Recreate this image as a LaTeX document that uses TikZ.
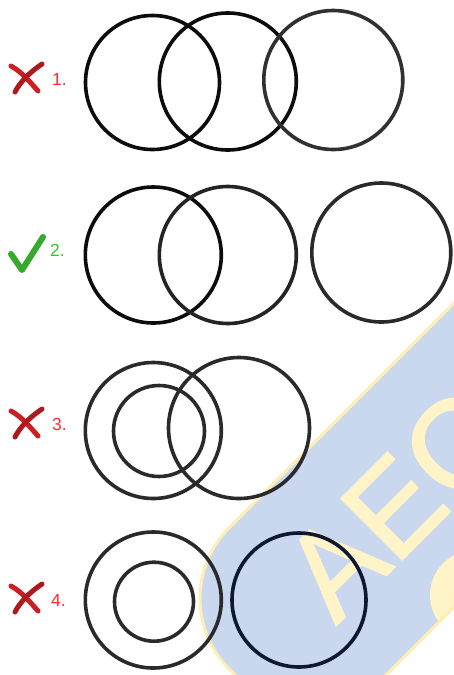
\documentclass[tikz,border=0pt]{standalone}
\usepackage{fontspec}
\setmainfont{Liberation Sans}
\newfontfamily\wmfont[FakeBold=1.5]{Liberation Sans}
\definecolor{bandblue}{RGB}{201,216,238}
\definecolor{wmyellow}{RGB}{255,244,200}
\definecolor{wmedge}{RGB}{252,238,180}
\definecolor{ringA}{RGB}{12,12,12}
\definecolor{ringB}{RGB}{42,42,42}
\definecolor{ringN}{RGB}{14,24,50}
\definecolor{xred}{RGB}{205,30,35}
\definecolor{numred}{RGB}{255,45,45}
\definecolor{numgreen}{RGB}{50,200,50}
\definecolor{okgreen}{RGB}{55,170,45}
\begin{document}
\begin{tikzpicture}[x=1pt,y=1pt,
  ring/.style={circle, draw=ringB, line width=3.6pt, inner sep=0pt, minimum size=#1},
  numlabel/.style={font=\fontsize{17.5}{17.5}\selectfont, anchor=west, inner sep=0pt},
  xmark/.style={draw=xred, line width=5pt, line cap=round},
  okmark/.style={draw=okgreen, line width=6pt, line cap=round, line join=round}]
\useasboundingbox (0,0) rectangle (454,-675);
\fill[white] (0,0) rectangle (454,-675);
% watermark band
\begin{scope}
  \clip (0,0) rectangle (454,-675);
  \begin{scope}[rotate=45]
    \begin{scope}
      \clip[rounded corners=100pt] (-311,-535.3) -- (600,-535.3) -- (600,-750.2) -- (-311,-750.2) -- cycle;
      \fill[bandblue] (-400,-400) rectangle (700,-900);
      \fill[wmyellow] (-84.9,-756.6) circle (45);
      \node[transform shape, anchor=base west, inner sep=0pt, text=wmyellow,
            font=\wmfont\fontsize{125}{125}\selectfont] (wm) at (-205,-680) {AEC};
    \end{scope}
    \draw[wmedge, line width=3pt, rounded corners=100pt] (600,-535.3) -- (-311,-535.3) -- (-311,-750.2) -- (600,-750.2);
  \end{scope}
\end{scope}
% row 1
\node[ring=134pt, draw=ringA] (c1a) at (152.5,-82.5) {};
\node[ring=137pt, draw=ringA] (c1b) at (227.8,-81.5) {};
\node[ring=139pt, draw=ringA!85!white] (c1c) at (333.3,-80) {};
% row 2
\node[ring=136pt, draw=ringA] (c2a) at (153.3,-255) {};
\node[ring=137pt, draw=ringA!90!white] (c2b) at (227.8,-255) {};
\node[ring=139pt] (c2c) at (381.3,-252.5) {};
% row 3
\node[ring=136pt] (c3a) at (153.3,-430.5) {};
\node[ring=91pt] (c3b) at (159,-431) {};
\node[ring=141pt] (c3c) at (239,-428) {};
% row 4
\node[ring=136pt] (c4a) at (153.3,-600) {};
\node[ring=79pt] (c4b) at (154,-601.7) {};
\node[ring=134pt, draw=ringN] (c4c) at (299,-600) {};
% labels
\draw[xmark] (11,-66) .. controls (22,-72) and (30,-82) .. (38,-91);
\draw[xmark, draw=xred!85!black] (42,-64) .. controls (30,-72) and (20,-82) .. (15,-92);
\node[numlabel, text=numred] (n1) at (52,-79) {1.};
\draw[okmark] (11,-254) -- (22,-270) -- (43,-237);
\node[numlabel, text=numgreen] (n2) at (50,-250) {2.};
\draw[xmark] (11,-411) .. controls (22,-417) and (30,-427) .. (38,-436);
\draw[xmark, draw=xred!85!black] (42,-409) .. controls (30,-417) and (20,-427) .. (15,-437);
\node[numlabel, text=numred] (n3) at (52,-424) {3.};
\draw[xmark] (11,-586) .. controls (22,-592) and (30,-602) .. (38,-611);
\draw[xmark, draw=xred!85!black] (42,-584) .. controls (30,-592) and (20,-602) .. (15,-612);
\node[numlabel, text=numred] (n4) at (51,-600) {4.};
\end{tikzpicture}
\end{document}
